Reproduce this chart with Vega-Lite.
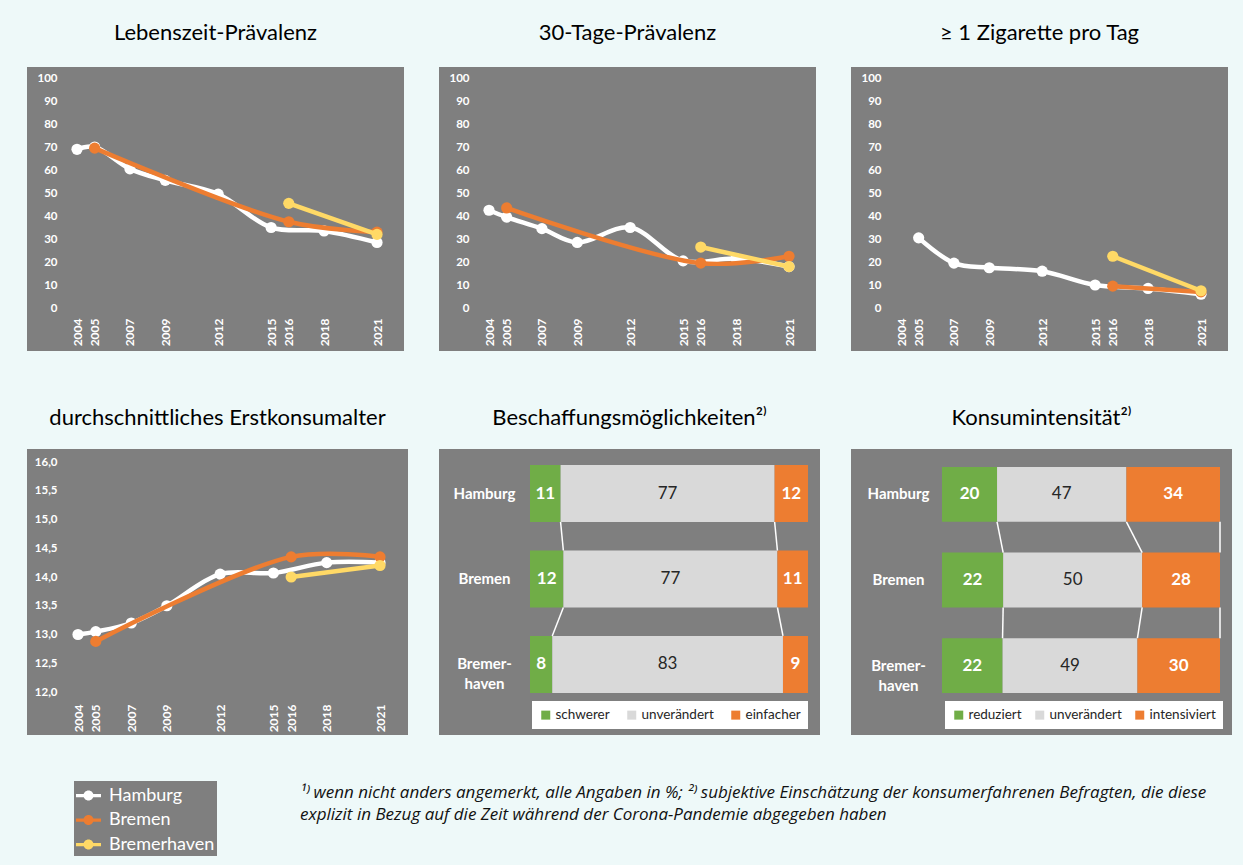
{
  "$schema": "https://vega.github.io/schema/vega-lite/v6.json",
  "background": "#EEF9F9",
  "padding": {"left": 27, "top": 22, "right": 0, "bottom": 0},
  "resolve": {"scale": {"color": "independent"}, "legend": {"color": "independent"}},
  "config": {
    "view": {"stroke": null},
    "title": {"font": "Lato", "fontSize": 22, "fontWeight": "normal", "color": "#000000", "offset": 22, "anchor": "middle"},
    "axis": {"labelFont": "Lato", "domain": false, "ticks": false, "tickSize": 0, "grid": false, "title": null}
  },
  "datasets": {
    "lz": [
      {"region": "Hamburg", "year": 2004, "value": 69},
      {"region": "Hamburg", "year": 2005, "value": 70},
      {"region": "Hamburg", "year": 2007, "value": 60.5},
      {"region": "Hamburg", "year": 2009, "value": 55.5},
      {"region": "Hamburg", "year": 2012, "value": 49.5},
      {"region": "Hamburg", "year": 2015, "value": 35},
      {"region": "Hamburg", "year": 2018, "value": 33.5},
      {"region": "Hamburg", "year": 2021, "value": 28.5},
      {"region": "Bremen", "year": 2005, "value": 69.5},
      {"region": "Bremen", "year": 2016, "value": 37.5},
      {"region": "Bremen", "year": 2021, "value": 33},
      {"region": "Bremerhaven", "year": 2016, "value": 45.5},
      {"region": "Bremerhaven", "year": 2021, "value": 32}
    ],
    "td": [
      {"region": "Hamburg", "year": 2004, "value": 42.5},
      {"region": "Hamburg", "year": 2005, "value": 39.5},
      {"region": "Hamburg", "year": 2007, "value": 34.5},
      {"region": "Hamburg", "year": 2009, "value": 28.5},
      {"region": "Hamburg", "year": 2012, "value": 35},
      {"region": "Hamburg", "year": 2015, "value": 20.5},
      {"region": "Hamburg", "year": 2018, "value": 21.5},
      {"region": "Hamburg", "year": 2021, "value": 18},
      {"region": "Bremen", "year": 2005, "value": 43.5},
      {"region": "Bremen", "year": 2016, "value": 19.5},
      {"region": "Bremen", "year": 2021, "value": 22.5},
      {"region": "Bremerhaven", "year": 2016, "value": 26.5},
      {"region": "Bremerhaven", "year": 2021, "value": 18}
    ],
    "zig": [
      {"region": "Hamburg", "year": 2005, "value": 30.5},
      {"region": "Hamburg", "year": 2007, "value": 19.5},
      {"region": "Hamburg", "year": 2009, "value": 17.5},
      {"region": "Hamburg", "year": 2012, "value": 16},
      {"region": "Hamburg", "year": 2015, "value": 10},
      {"region": "Hamburg", "year": 2018, "value": 8.5},
      {"region": "Hamburg", "year": 2021, "value": 6},
      {"region": "Bremen", "year": 2016, "value": 9.5},
      {"region": "Bremen", "year": 2021, "value": 7},
      {"region": "Bremerhaven", "year": 2016, "value": 22.5},
      {"region": "Bremerhaven", "year": 2021, "value": 7.5}
    ],
    "alter": [
      {"region": "Hamburg", "year": 2004, "value": 13.0},
      {"region": "Hamburg", "year": 2005, "value": 13.05},
      {"region": "Hamburg", "year": 2007, "value": 13.2},
      {"region": "Hamburg", "year": 2009, "value": 13.5},
      {"region": "Hamburg", "year": 2012, "value": 14.05},
      {"region": "Hamburg", "year": 2015, "value": 14.07},
      {"region": "Hamburg", "year": 2018, "value": 14.25},
      {"region": "Hamburg", "year": 2021, "value": 14.25},
      {"region": "Bremen", "year": 2005, "value": 12.88},
      {"region": "Bremen", "year": 2016, "value": 14.35},
      {"region": "Bremen", "year": 2021, "value": 14.35},
      {"region": "Bremerhaven", "year": 2016, "value": 14.0},
      {"region": "Bremerhaven", "year": 2021, "value": 14.2}
    ],
    "besch": [
      {"city": "Hamburg", "cat": "schwerer", "k": 1, "value": 11},
      {"city": "Hamburg", "cat": "unverändert", "k": 2, "value": 77},
      {"city": "Hamburg", "cat": "einfacher", "k": 3, "value": 12},
      {"city": "Bremen", "cat": "schwerer", "k": 1, "value": 12},
      {"city": "Bremen", "cat": "unverändert", "k": 2, "value": 77},
      {"city": "Bremen", "cat": "einfacher", "k": 3, "value": 11},
      {"city": "Bremerhaven", "cat": "schwerer", "k": 1, "value": 8},
      {"city": "Bremerhaven", "cat": "unverändert", "k": 2, "value": 83},
      {"city": "Bremerhaven", "cat": "einfacher", "k": 3, "value": 9}
    ],
    "konsum": [
      {"city": "Hamburg", "cat": "reduziert", "k": 1, "value": 20},
      {"city": "Hamburg", "cat": "unverändert", "k": 2, "value": 47},
      {"city": "Hamburg", "cat": "intensiviert", "k": 3, "value": 34},
      {"city": "Bremen", "cat": "reduziert", "k": 1, "value": 22},
      {"city": "Bremen", "cat": "unverändert", "k": 2, "value": 50},
      {"city": "Bremen", "cat": "intensiviert", "k": 3, "value": 28},
      {"city": "Bremerhaven", "cat": "reduziert", "k": 1, "value": 22},
      {"city": "Bremerhaven", "cat": "unverändert", "k": 2, "value": 49},
      {"city": "Bremerhaven", "cat": "intensiviert", "k": 3, "value": 30}
    ],
    "regions": [
      {"region": "Hamburg"},
      {"region": "Bremen"},
      {"region": "Bremerhaven"}
    ]
  },
  "spacing": 46,
  "vconcat": [
    {
      "spacing": 56,
      "resolve": {"scale": {"color": "independent"}, "legend": {"color": "independent"}},
      "vconcat": [
        {
          "spacing": 35,
          "resolve": {"scale": {"x": "independent", "y": "independent", "color": "independent"}},
          "hconcat": [
            {
              "width": 377, "height": 284,
              "view": {"fill": "#7F7F7F", "stroke": null},
              "title": "Lebenszeit-Prävalenz",
              "data": {"name": "lz"},
              "encoding": {
                "x": {"field": "year", "type": "quantitative", "scale": {"domain": [2004, 2021], "range": [50, 350], "nice": false, "zero": false},
                  "axis": {"orient": "bottom", "offset": -43, "values": [2004, 2005, 2007, 2009, 2012, 2015, 2016, 2018, 2021], "format": "d", "labelAngle": 270, "labelAlign": "right", "labelBaseline": "middle", "labelPadding": 10, "labelColor": "#FFFFFF", "labelFontWeight": "bold", "labelFontSize": 12, "labelOverlap": false, "labelFlush": false}},
                "y": {"field": "value", "type": "quantitative", "scale": {"domain": [0, 100], "range": [241, 11], "nice": false},
                  "axis": {"orient": "left", "offset": -30, "values": [0, 10, 20, 30, 40, 50, 60, 70, 80, 90, 100], "labelPadding": 0, "labelColor": "#FFFFFF", "labelFontWeight": "bold", "labelFontSize": 11.5, "labelOverlap": false, "labelFlush": false}}
              },
              "layer": [
                {"data": {"values": [{"g": 10}, {"g": 20}, {"g": 30}, {"g": 40}, {"g": 50}, {"g": 60}, {"g": 70}, {"g": 80}, {"g": 90}]},
                 "mark": {"type": "rule", "color": "#8E8E8E", "strokeWidth": 1.2},
                 "encoding": {"y": {"field": "g", "type": "quantitative"}, "x": {"datum": 2003.55}, "x2": {"datum": 2021.57}}},
                {"data": {"values": [{}]},
                 "mark": {"type": "rect", "fill": "transparent", "stroke": "#FFFFFF", "strokeWidth": 2},
                 "encoding": {"x": {"datum": 2003.55}, "x2": {"datum": 2021.57}, "y": {"datum": 0}, "y2": {"datum": 100}}},
                {"transform": [{"filter": "datum.region == 'Hamburg'"}],
                 "mark": {"type": "line", "color": "#FFFFFF", "strokeWidth": 4.5, "interpolate": "catmull-rom", "point": {"filled": true, "size": 125, "color": "#FFFFFF"}}},
                {"transform": [{"filter": "datum.region == 'Bremen'"}],
                 "mark": {"type": "line", "color": "#ED7D31", "strokeWidth": 4.5, "interpolate": "catmull-rom", "point": {"filled": true, "size": 125, "color": "#ED7D31"}}},
                {"transform": [{"filter": "datum.region == 'Bremerhaven'"}],
                 "mark": {"type": "line", "color": "#FFD966", "strokeWidth": 4.5, "interpolate": "catmull-rom", "point": {"filled": true, "size": 125, "color": "#FFD966"}}}
              ]
            },
            {
              "width": 377, "height": 284,
              "view": {"fill": "#7F7F7F", "stroke": null},
              "title": "30-Tage-Prävalenz",
              "data": {"name": "td"},
              "encoding": {
                "x": {"field": "year", "type": "quantitative", "scale": {"domain": [2004, 2021], "range": [50, 350], "nice": false, "zero": false},
                  "axis": {"orient": "bottom", "offset": -43, "values": [2004, 2005, 2007, 2009, 2012, 2015, 2016, 2018, 2021], "format": "d", "labelAngle": 270, "labelAlign": "right", "labelBaseline": "middle", "labelPadding": 10, "labelColor": "#FFFFFF", "labelFontWeight": "bold", "labelFontSize": 12, "labelOverlap": false, "labelFlush": false}},
                "y": {"field": "value", "type": "quantitative", "scale": {"domain": [0, 100], "range": [241, 11], "nice": false},
                  "axis": {"orient": "left", "offset": -30, "values": [0, 10, 20, 30, 40, 50, 60, 70, 80, 90, 100], "labelPadding": 0, "labelColor": "#FFFFFF", "labelFontWeight": "bold", "labelFontSize": 11.5, "labelOverlap": false, "labelFlush": false}}
              },
              "layer": [
                {"data": {"values": [{"g": 10}, {"g": 20}, {"g": 30}, {"g": 40}, {"g": 50}, {"g": 60}, {"g": 70}, {"g": 80}, {"g": 90}]},
                 "mark": {"type": "rule", "color": "#8E8E8E", "strokeWidth": 1.2},
                 "encoding": {"y": {"field": "g", "type": "quantitative"}, "x": {"datum": 2003.55}, "x2": {"datum": 2021.57}}},
                {"data": {"values": [{}]},
                 "mark": {"type": "rect", "fill": "transparent", "stroke": "#FFFFFF", "strokeWidth": 2},
                 "encoding": {"x": {"datum": 2003.55}, "x2": {"datum": 2021.57}, "y": {"datum": 0}, "y2": {"datum": 100}}},
                {"transform": [{"filter": "datum.region == 'Hamburg'"}],
                 "mark": {"type": "line", "color": "#FFFFFF", "strokeWidth": 4.5, "interpolate": "catmull-rom", "point": {"filled": true, "size": 125, "color": "#FFFFFF"}}},
                {"transform": [{"filter": "datum.region == 'Bremen'"}],
                 "mark": {"type": "line", "color": "#ED7D31", "strokeWidth": 4.5, "interpolate": "catmull-rom", "point": {"filled": true, "size": 125, "color": "#ED7D31"}}},
                {"transform": [{"filter": "datum.region == 'Bremerhaven'"}],
                 "mark": {"type": "line", "color": "#FFD966", "strokeWidth": 4.5, "interpolate": "catmull-rom", "point": {"filled": true, "size": 125, "color": "#FFD966"}}}
              ]
            },
            {
              "width": 377, "height": 284,
              "view": {"fill": "#7F7F7F", "stroke": null},
              "title": "≥ 1 Zigarette pro Tag",
              "data": {"name": "zig"},
              "encoding": {
                "x": {"field": "year", "type": "quantitative", "scale": {"domain": [2004, 2021], "range": [50, 350], "nice": false, "zero": false},
                  "axis": {"orient": "bottom", "offset": -43, "values": [2004, 2005, 2007, 2009, 2012, 2015, 2016, 2018, 2021], "format": "d", "labelAngle": 270, "labelAlign": "right", "labelBaseline": "middle", "labelPadding": 10, "labelColor": "#FFFFFF", "labelFontWeight": "bold", "labelFontSize": 12, "labelOverlap": false, "labelFlush": false}},
                "y": {"field": "value", "type": "quantitative", "scale": {"domain": [0, 100], "range": [241, 11], "nice": false},
                  "axis": {"orient": "left", "offset": -30, "values": [0, 10, 20, 30, 40, 50, 60, 70, 80, 90, 100], "labelPadding": 0, "labelColor": "#FFFFFF", "labelFontWeight": "bold", "labelFontSize": 11.5, "labelOverlap": false, "labelFlush": false}}
              },
              "layer": [
                {"data": {"values": [{"g": 10}, {"g": 20}, {"g": 30}, {"g": 40}, {"g": 50}, {"g": 60}, {"g": 70}, {"g": 80}, {"g": 90}]},
                 "mark": {"type": "rule", "color": "#8E8E8E", "strokeWidth": 1.2},
                 "encoding": {"y": {"field": "g", "type": "quantitative"}, "x": {"datum": 2003.55}, "x2": {"datum": 2021.57}}},
                {"data": {"values": [{}]},
                 "mark": {"type": "rect", "fill": "transparent", "stroke": "#FFFFFF", "strokeWidth": 2},
                 "encoding": {"x": {"datum": 2003.55}, "x2": {"datum": 2021.57}, "y": {"datum": 0}, "y2": {"datum": 100}}},
                {"transform": [{"filter": "datum.region == 'Hamburg'"}],
                 "mark": {"type": "line", "color": "#FFFFFF", "strokeWidth": 4.5, "interpolate": "catmull-rom", "point": {"filled": true, "size": 125, "color": "#FFFFFF"}}},
                {"transform": [{"filter": "datum.region == 'Bremen'"}],
                 "mark": {"type": "line", "color": "#ED7D31", "strokeWidth": 4.5, "interpolate": "catmull-rom", "point": {"filled": true, "size": 125, "color": "#ED7D31"}}},
                {"transform": [{"filter": "datum.region == 'Bremerhaven'"}],
                 "mark": {"type": "line", "color": "#FFD966", "strokeWidth": 4.5, "interpolate": "catmull-rom", "point": {"filled": true, "size": 125, "color": "#FFD966"}}}
              ]
            }
          ]
        },
        {
          "spacing": 31,
          "resolve": {"scale": {"x": "independent", "y": "independent", "color": "independent"}, "legend": {"color": "independent"}},
          "hconcat": [
            {
              "width": 381, "height": 286,
              "view": {"fill": "#7F7F7F", "stroke": null},
              "title": {"text": "durchschnittliches Erstkonsumalter", "offset": 19},
              "data": {"name": "alter"},
              "encoding": {
                "x": {"field": "year", "type": "quantitative", "scale": {"domain": [2004, 2021], "range": [51, 353], "nice": false, "zero": false},
                  "axis": {"orient": "bottom", "offset": -43, "values": [2004, 2005, 2007, 2009, 2012, 2015, 2016, 2018, 2021], "format": "d", "labelAngle": 270, "labelAlign": "right", "labelBaseline": "middle", "labelPadding": 12, "labelColor": "#FFFFFF", "labelFontWeight": "bold", "labelFontSize": 12, "labelOverlap": false, "labelFlush": false}},
                "y": {"field": "value", "type": "quantitative", "scale": {"domain": [12, 16], "range": [243, 13], "nice": false, "zero": false},
                  "axis": {"orient": "left", "offset": -30, "values": [12, 12.5, 13, 13.5, 14, 14.5, 15, 15.5, 16], "labelExpr": "replace(format(datum.value, '.1f'), '.', ',')", "labelPadding": 0, "labelColor": "#FFFFFF", "labelFontWeight": "bold", "labelFontSize": 11.5, "labelOverlap": false, "labelFlush": false}}
              },
              "layer": [
                {"data": {"values": [{"g": 12.5}, {"g": 13}, {"g": 13.5}, {"g": 14}, {"g": 14.5}, {"g": 15}, {"g": 15.5}]},
                 "mark": {"type": "rule", "color": "#8E8E8E", "strokeWidth": 1.2},
                 "encoding": {"y": {"field": "g", "type": "quantitative"}, "x": {"datum": 2003.49}, "x2": {"datum": 2021.57}}},
                {"data": {"values": [{}]},
                 "mark": {"type": "rect", "fill": "transparent", "stroke": "#FFFFFF", "strokeWidth": 2},
                 "encoding": {"x": {"datum": 2003.49}, "x2": {"datum": 2021.57}, "y": {"datum": 12}, "y2": {"datum": 16}}},
                {"transform": [{"filter": "datum.region == 'Hamburg'"}],
                 "mark": {"type": "line", "color": "#FFFFFF", "strokeWidth": 4.5, "interpolate": "catmull-rom", "point": {"filled": true, "size": 125, "color": "#FFFFFF"}}},
                {"transform": [{"filter": "datum.region == 'Bremen'"}],
                 "mark": {"type": "line", "color": "#ED7D31", "strokeWidth": 4.5, "interpolate": "catmull-rom", "point": {"filled": true, "size": 125, "color": "#ED7D31"}}},
                {"transform": [{"filter": "datum.region == 'Bremerhaven'"}],
                 "mark": {"type": "line", "color": "#FFD966", "strokeWidth": 4.5, "interpolate": "catmull-rom", "point": {"filled": true, "size": 125, "color": "#FFD966"}}}
              ]
            },
            {
              "width": 381, "height": 286,
              "view": {"fill": "#7F7F7F", "stroke": null},
              "title": {"text": "Beschaffungsmöglichkeiten²⁾", "offset": 19},
              "data": {"name": "besch"},
              "layer": [
                {
                  "mark": {"type": "bar"},
                  "encoding": {
                    "y": {"field": "city", "type": "nominal", "scale": {"domain": ["Hamburg", "Bremen", "Bremerhaven"], "range": [16, 244], "paddingInner": 0.333, "paddingOuter": 0},
                      "axis": {"orient": "left", "offset": -45, "labelPadding": 0, "labelAlign": "center", "labelColor": "#FFFFFF", "labelFontWeight": "bold", "labelFontSize": 15, "labelLineHeight": 20, "labelLimit": 200, "labelExpr": "datum.value == 'Bremerhaven' ? ['Bremer-', 'haven'] : datum.value"}},
                    "x": {"field": "value", "type": "quantitative", "stack": "normalize", "scale": {"domain": [0, 1], "range": [91, 369], "nice": false}, "axis": null},
                    "color": {"field": "cat", "type": "nominal", "scale": {"domain": ["schwerer", "unverändert", "einfacher"], "range": ["#70AD47", "#D9D9D9", "#ED7D31"]},
                      "legend": {"orient": "none", "legendX": 93, "legendY": 252, "direction": "horizontal", "title": null, "fillColor": "#FFFFFF", "padding": 7, "symbolType": "square", "symbolSize": 81, "symbolStrokeWidth": 0, "labelFont": "Lato", "labelFontSize": 13.5, "labelColor": "#262626", "columnPadding": 15, "labelOffset": 3}},
                    "order": {"field": "k", "type": "quantitative"}
                  }
                },
                {
                  "transform": [
                    {"stack": "value", "groupby": ["city"], "sort": [{"field": "k", "order": "ascending"}], "offset": "normalize", "as": ["c0", "c1"]},
                    {"window": [{"op": "lead", "field": "c1", "as": "c1n"}, {"op": "lead", "field": "city", "as": "cityn"}], "groupby": ["k"]},
                    {"filter": "datum.cityn != null && datum.k < 3"}
                  ],
                  "mark": {"type": "rule", "color": "#FFFFFF", "strokeWidth": 1.5},
                  "encoding": {
                    "x": {"field": "c1", "type": "quantitative"},
                    "x2": {"field": "c1n"},
                    "y": {"field": "city", "type": "nominal", "bandPosition": 1},
                    "y2": {"field": "cityn", "bandPosition": 0}
                  }
                },
                {
                  "mark": {"type": "text", "font": "Lato", "fontWeight": "bold", "fontSize": 17, "color": "#FFFFFF"},
                  "encoding": {
                    "y": {"field": "city", "type": "nominal"},
                    "x": {"field": "value", "type": "quantitative", "stack": "normalize", "bandPosition": 0.5},
                    "detail": {"field": "cat"},
                    "order": {"field": "k", "type": "quantitative"},
                    "text": {"condition": {"test": "datum.k != 2", "field": "value", "type": "quantitative"}, "value": ""}
                  }
                },
                {
                  "mark": {"type": "text", "font": "Lato", "fontWeight": "normal", "fontSize": 17, "color": "#262626"},
                  "encoding": {
                    "y": {"field": "city", "type": "nominal"},
                    "x": {"field": "value", "type": "quantitative", "stack": "normalize", "bandPosition": 0.5},
                    "detail": {"field": "cat"},
                    "order": {"field": "k", "type": "quantitative"},
                    "text": {"condition": {"test": "datum.k == 2", "field": "value", "type": "quantitative"}, "value": ""}
                  }
                }
              ]
            },
            {
              "width": 381, "height": 286,
              "view": {"fill": "#7F7F7F", "stroke": null},
              "title": {"text": "Konsumintensität²⁾", "offset": 19},
              "data": {"name": "konsum"},
              "layer": [
                {
                  "mark": {"type": "bar"},
                  "encoding": {
                    "y": {"field": "city", "type": "nominal", "scale": {"domain": ["Hamburg", "Bremen", "Bremerhaven"], "range": [18, 244], "paddingInner": 0.36, "paddingOuter": 0},
                      "axis": {"orient": "left", "offset": -47, "labelPadding": 0, "labelAlign": "center", "labelColor": "#FFFFFF", "labelFontWeight": "bold", "labelFontSize": 15, "labelLineHeight": 20, "labelLimit": 200, "labelExpr": "datum.value == 'Bremerhaven' ? ['Bremer-', 'haven'] : datum.value"}},
                    "x": {"field": "value", "type": "quantitative", "stack": "normalize", "scale": {"domain": [0, 1], "range": [91, 369], "nice": false}, "axis": null},
                    "color": {"field": "cat", "type": "nominal", "scale": {"domain": ["reduziert", "unverändert", "intensiviert"], "range": ["#70AD47", "#D9D9D9", "#ED7D31"]},
                      "legend": {"orient": "none", "legendX": 94, "legendY": 252, "direction": "horizontal", "title": null, "fillColor": "#FFFFFF", "padding": 7, "symbolType": "square", "symbolSize": 81, "symbolStrokeWidth": 0, "labelFont": "Lato", "labelFontSize": 13.5, "labelColor": "#262626", "columnPadding": 11, "labelOffset": 3}},
                    "order": {"field": "k", "type": "quantitative"}
                  }
                },
                {
                  "transform": [
                    {"stack": "value", "groupby": ["city"], "sort": [{"field": "k", "order": "ascending"}], "offset": "normalize", "as": ["c0", "c1"]},
                    {"window": [{"op": "lead", "field": "c1", "as": "c1n"}, {"op": "lead", "field": "city", "as": "cityn"}], "groupby": ["k"]},
                    {"filter": "datum.cityn != null"}
                  ],
                  "mark": {"type": "rule", "color": "#FFFFFF", "strokeWidth": 1.5},
                  "encoding": {
                    "x": {"field": "c1", "type": "quantitative"},
                    "x2": {"field": "c1n"},
                    "y": {"field": "city", "type": "nominal", "bandPosition": 1},
                    "y2": {"field": "cityn", "bandPosition": 0}
                  }
                },
                {
                  "mark": {"type": "text", "font": "Lato", "fontWeight": "bold", "fontSize": 17, "color": "#FFFFFF"},
                  "encoding": {
                    "y": {"field": "city", "type": "nominal"},
                    "x": {"field": "value", "type": "quantitative", "stack": "normalize", "bandPosition": 0.5},
                    "detail": {"field": "cat"},
                    "order": {"field": "k", "type": "quantitative"},
                    "text": {"condition": {"test": "datum.k != 2", "field": "value", "type": "quantitative"}, "value": ""}
                  }
                },
                {
                  "mark": {"type": "text", "font": "Lato", "fontWeight": "normal", "fontSize": 17, "color": "#262626"},
                  "encoding": {
                    "y": {"field": "city", "type": "nominal"},
                    "x": {"field": "value", "type": "quantitative", "stack": "normalize", "bandPosition": 0.5},
                    "detail": {"field": "cat"},
                    "order": {"field": "k", "type": "quantitative"},
                    "text": {"condition": {"test": "datum.k == 2", "field": "value", "type": "quantitative"}, "value": ""}
                  }
                }
              ]
            }
          ]
        }
      ]
    },
    {
      "width": 1216, "height": 86,
      "view": {"fill": null, "stroke": null},
      "title": {
        "text": ["¹⁾ wenn nicht anders angemerkt, alle Angaben in %; ²⁾ subjektive Einschätzung der konsumerfahrenen Befragten, die diese", "explizit in Bezug auf die Zeit während der Corona-Pandemie abgegeben haben"],
        "anchor": "start", "fontStyle": "italic", "fontSize": 17, "lineHeight": 22, "font": "Open Sans", "color": "#111111", "dx": 273, "offset": -43
      },
      "data": {"name": "regions"},
      "mark": {"type": "text", "text": ""},
      "encoding": {
        "color": {"field": "region", "type": "nominal", "scale": {"domain": ["Hamburg", "Bremen", "Bremerhaven"], "range": ["#FFFFFF", "#ED7D31", "#FFD966"]},
          "legend": {"orient": "none", "legendX": 47, "legendY": 0, "title": null, "fillColor": "#7F7F7F", "padding": 2, "rowPadding": 2.5,
            "symbolType": "M-1,-0.13L1,-0.13L1,0.13L-1,0.13Z M0.4,0A0.4,0.4,0,1,1,-0.4,0A0.4,0.4,0,1,1,0.4,0Z",
            "symbolSize": 625, "symbolStrokeWidth": 0, "symbolOpacity": 1, "labelFont": "Lato", "labelFontSize": 18, "labelColor": "#FFFFFF", "labelOffset": 8, "labelLimit": 300}}
      }
    }
  ]
}
